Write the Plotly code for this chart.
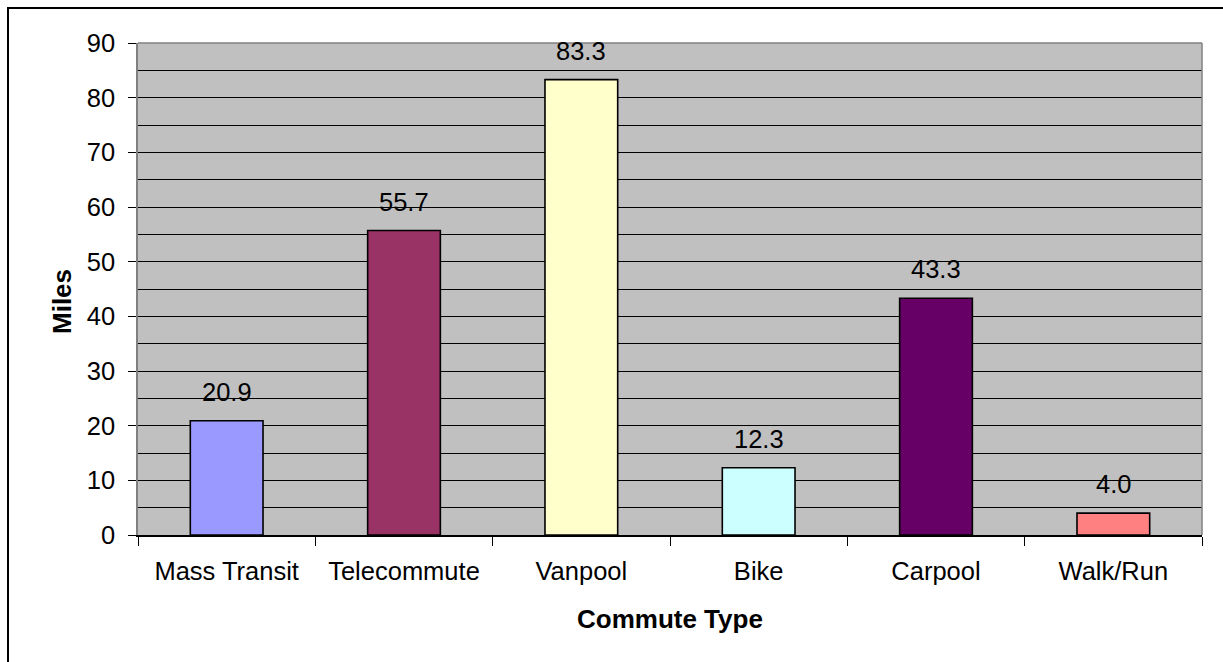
import plotly.graph_objects as go

categories = ["Mass Transit", "Telecommute", "Vanpool", "Bike", "Carpool", "Walk/Run"]
miles = [20.9, 55.7, 83.3, 12.3, 43.3, 4.0]
labels = ["20.9", "55.7", "83.3", "12.3", "43.3", "4.0"]
colors = ["#9999FF", "#993366", "#FFFFCC", "#CCFFFF", "#660066", "#FF8080"]
y_ticks = [0, 10, 20, 30, 40, 50, 60, 70, 80, 90]

W, H = 1223, 662
L, R, T, B = 138, 21, 43, 127
PW, PH = W - L - R, H - T - B

def px_x(p):
    return (p - L) / PW

def px_y(p):
    return (H - B - p) / PH

FONT = "Arial, Liberation Sans, sans-serif"

fig = go.Figure()
fig.add_trace(go.Bar(
    x=categories, y=miles,
    marker=dict(color=colors, line=dict(color="black", width=1.6)),
    hoverinfo="x+y",
))

for c, v, t in zip(categories, miles, labels):
    fig.add_annotation(x=c, y=v, text=t, showarrow=False, yshift=29,
                       yanchor="middle", font=dict(family=FONT, size=25.5, color="black"))

fig.add_annotation(x=0.5, y=px_y(619), xref="paper", yref="paper", text="<b>Commute Type</b>",
                   showarrow=False, yanchor="middle", xanchor="center",
                   font=dict(family=FONT, size=26, color="black"))
fig.add_annotation(x=px_x(62), y=px_y(302), xref="paper", yref="paper", text="<b>Miles</b>",
                   showarrow=False, textangle=-90, yanchor="middle", xanchor="center",
                   font=dict(family=FONT, size=26, color="black"))

# plot-area top/right border in gray
fig.add_shape(type="line", xref="paper", yref="paper", x0=0, x1=1, y0=1, y1=1,
              line=dict(color="#808080", width=1.5), layer="above")
fig.add_shape(type="line", xref="paper", yref="paper", x0=1, x1=1, y0=0, y1=1,
              line=dict(color="#808080", width=1.5), layer="above")
# outer chart frame
fig.add_shape(type="rect", xref="paper", yref="paper",
              x0=px_x(8), x1=px_x(1240), y0=px_y(680), y1=px_y(8),
              line=dict(color="black", width=2), fillcolor="rgba(0,0,0,0)", layer="above")

fig.update_layout(
    width=W, height=H,
    margin=dict(l=L, r=R, t=T, b=B),
    paper_bgcolor="white", plot_bgcolor="#C0C0C0",
    bargap=0.59, showlegend=False,
    font=dict(family=FONT, size=25.5, color="black"),
)
fig.update_xaxes(
    showgrid=False, showline=True, linecolor="black", linewidth=1.5,
    ticks="outside", tickson="boundaries", ticklen=9, tickcolor="black", tickwidth=1,
    tickfont=dict(family=FONT, size=25.5, color="black"),
    ticklabelstandoff=13,
)
fig.update_yaxes(
    range=[0, 90], tickvals=y_ticks, ticktext=[str(v) for v in y_ticks],
    showgrid=True, gridcolor="black", gridwidth=1,
    minor=dict(dtick=5, showgrid=True, gridcolor="black", gridwidth=1, ticks=""),
    showline=True, linecolor="#808080", linewidth=1.5, zeroline=False,
    ticks="outside", ticklen=8, tickcolor="black", tickwidth=1,
    tickfont=dict(family=FONT, size=25.5, color="black"),
    ticklabelstandoff=8,
)

fig.write_html("out.html", config={"displayModeBar": False},
               post_script="document.body.style.margin='0px';")
